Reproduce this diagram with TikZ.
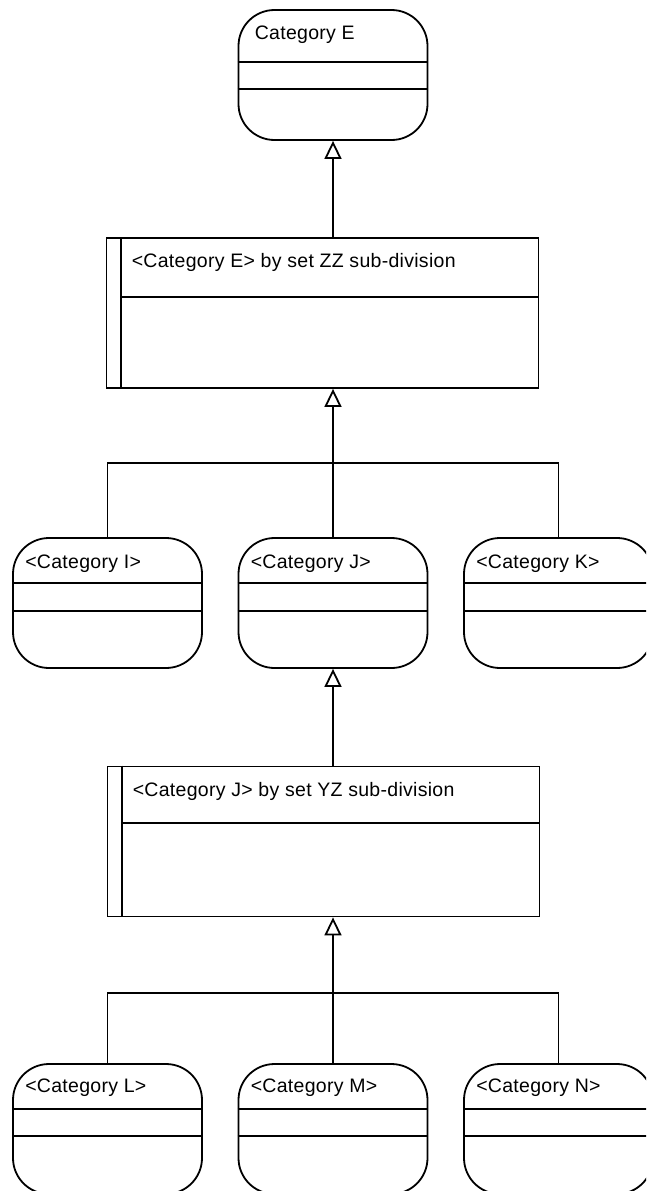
\documentclass[tikz,border=0pt]{standalone}
\usepackage{fontspec}
\setmainfont{Liberation Sans}[LetterSpace=1.5]
\usetikzlibrary{arrows.meta,calc}

\tikzset{
  cls/.style={draw, line width=1.8pt, rounded corners=36pt,
    minimum width=189pt, minimum height=130pt, inner sep=0pt},
  part/.style={draw, line width=1.8pt,
    minimum width=432pt, minimum height=150pt, inner sep=0pt},
  title/.style={anchor=base west, inner sep=0pt,
    font=\fontsize{19.5}{22}\selectfont},
  rule/.style={line width=1.8pt},
  inherit/.style={line width=1.8pt,
    -{Triangle[open, length=18pt, width=17pt, fill=white]}},
}

\begin{document}
\begin{tikzpicture}[x=1pt, y=-1pt]
\useasboundingbox (0,0) rectangle (646,1191);
\clip (0,0) rectangle (646,1191);

% ---- root class
\node[cls] (E) at (333,75) {};
\node[title] (E-t) at ($(E.north west)+(17,30)$) {Category E};
\draw[rule] ($(E.north west)+(0,53)$) -- ($(E.north east)+(0,53)$);
\draw[rule] ($(E.north west)+(0,80)$) -- ($(E.north east)+(0,80)$);

% ---- first partition
\node[part] (ZZ) at (322.5,313) {};
\node[title] (ZZ-t) at ($(ZZ.north west)+(26,30)$) {<Category E> by set ZZ sub-division};
\draw[rule] ($(ZZ.north west)+(15,0)$) -- ($(ZZ.south west)+(15,0)$);
\draw[rule] ($(ZZ.north west)+(15,60)$) -- ($(ZZ.north east)+(0,60)$);

% ---- middle row of classes
\node[cls] (I) at (107.5,603) {};
\node[cls] (J) at (333,603) {};
\node[cls] (K) at (558.5,603) {};
\node[title] (I-t) at ($(I.north west)+(13,31)$) {<Category I>};
\node[title] (J-t) at ($(J.north west)+(13,31)$) {<Category J>};
\node[title] (K-t) at ($(K.north west)+(13,31)$) {<Category K>};
\foreach \n in {I,J,K}{
  \draw[rule] ($(\n.north west)+(0,46)$) -- ($(\n.north east)+(0,46)$);
  \draw[rule] ($(\n.north west)+(0,74)$) -- ($(\n.north east)+(0,74)$);
}

% ---- second partition
\node[part] (YZ) at (323.5,841.5) {};
\node[title] (YZ-t) at ($(YZ.north west)+(26,31)$) {<Category J> by set YZ sub-division};
\draw[rule] ($(YZ.north west)+(15,0)$) -- ($(YZ.south west)+(15,0)$);
\draw[rule] ($(YZ.north west)+(15,57)$) -- ($(YZ.north east)+(0,57)$);

% ---- bottom row of classes
\node[cls] (L) at (107.5,1129) {};
\node[cls] (M) at (333,1129) {};
\node[cls] (N) at (558.5,1129) {};
\node[title] (L-t) at ($(L.north west)+(13,29)$) {<Category L>};
\node[title] (M-t) at ($(M.north west)+(13,29)$) {<Category M>};
\node[title] (N-t) at ($(N.north west)+(13,29)$) {<Category N>};
\foreach \n in {L,M,N}{
  \draw[rule] ($(\n.north west)+(0,46)$) -- ($(\n.north east)+(0,46)$);
  \draw[rule] ($(\n.north west)+(0,73)$) -- ($(\n.north east)+(0,73)$);
}

% ---- generalisation connectors
\coordinate (b1) at (333,463);
\coordinate (b2) at (333,993);
\draw[inherit] (ZZ.north -| E.south) -- (E.south);
\draw[rule] (I.north) |- (b1) -| (K.north);
\draw[inherit] (J.north) -- (ZZ.south -| J.north);
\draw[inherit] (YZ.north -| J.south) -- (J.south);
\draw[rule] (L.north) |- (b2) -| (N.north);
\draw[inherit] (M.north) -- (YZ.south -| M.north);
\end{tikzpicture}
\end{document}
